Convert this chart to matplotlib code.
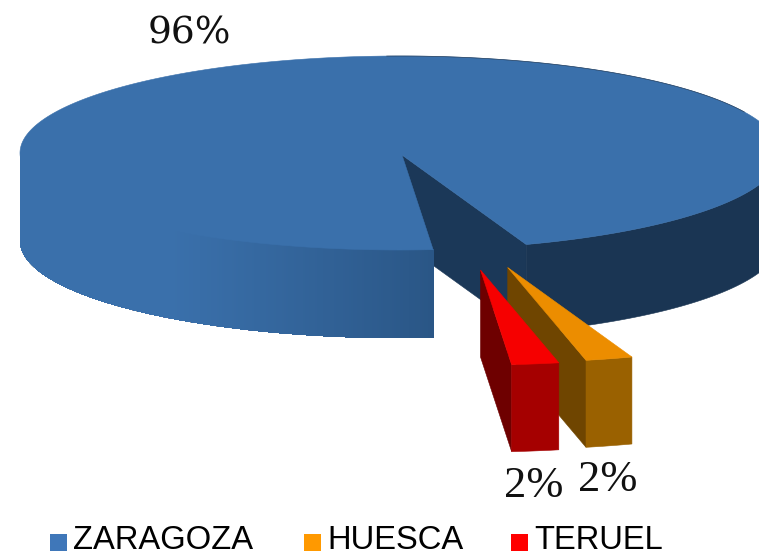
import numpy as np
import matplotlib
matplotlib.use("Agg")
import matplotlib.pyplot as plt
from matplotlib.patches import Polygon, Rectangle

# ---- data ----
categories = ["ZARAGOZA", "HUESCA", "TERUEL"]
shares = [96, 2, 2]
share_labels = ["96%", "2%", "2%"]
legend_colors = ["#3F77B9", "#FF9900", "#FF0000"]

# ---- styling and projection ----
W, H = 759, 556
CX, CY, RX, RY = 400, 153, 380, 97     # ellipse of the top face
APEX = np.array([402.0, 155.0])        # visual apex of the pie
DEPTH = 88
START = 85.0                           # screen angle where the first slice starts
offsets = {"HUESCA": (105.7, 112.5), "TERUEL": (78.5, 115.0)}
shades = {
    "HUESCA": dict(top="#EC8D00", front="#9A6100", side="#6F4500"),
    "TERUEL": dict(top="#F60000", front="#A50000", side="#6E0000"),
}
TOP = np.array([0x3A, 0x70, 0xAB]) / 255
MID = np.array([0x2A, 0x56, 0x86]) / 255
DARK = "#1A3553"
CUT = "#1B3858"

fig = plt.figure(figsize=(W / 100, H / 100), dpi=100)
ax = fig.add_axes([0, 0, 1, 1])
ax.set_xlim(0, W)
ax.set_ylim(H, 0)
ax.axis("off")


def rim(a):
    a = np.radians(a)
    return np.column_stack([CX + RX * np.cos(a), CY + RY * np.sin(a)])


def poly(pts, color, **kw):
    ax.add_patch(Polygon(np.asarray(pts), closed=True, facecolor=color,
                         edgecolor=color, linewidth=0.4, **kw))


def down(pts, d=DEPTH):
    return np.asarray(pts) + np.array([0, d])


# slice angle ranges from the shares
sweeps = np.array(shares) / sum(shares) * 360
edges = START + np.concatenate([[0], np.cumsum(sweeps)])
z_start, z_end = edges[0], edges[1]
notch = z_end - 360

# cut face seen through the gap
r_notch = rim([notch])[0]
poly([APEX, r_notch, r_notch + [0, DEPTH], APEX + [0, DEPTH]], CUT)

# right part of the side wall
arc = rim(np.linspace(-8, notch, 60))
poly(np.vstack([arc, down(arc)[::-1]]), DARK)

# front left part of the side wall, shaded by x; painted left to right,
# each band reaching to the far end so no seams appear between bands
steps = np.linspace(182, z_start, 300)
for i in range(len(steps) - 1):
    seg = rim(np.linspace(steps[i], z_start, 40))
    x = rim(steps[i:i + 2])[:, 0].mean()
    t = np.clip((x - 170) / (433 - 170), 0, 1) ** 1.1
    c = TOP + (MID - TOP) * t
    ax.add_patch(Polygon(np.vstack([seg, down(seg)[::-1]]), closed=True,
                         facecolor=c, edgecolor="none"))

# top face of the main slice
top_arc = rim(np.linspace(z_start, z_end, 400))
poly(np.vstack([[APEX], top_arc]), TOP)
edge = rim(np.linspace(268, 335, 120))
ax.plot(edge[:, 0], edge[:, 1], color="#16263A", lw=0.5, alpha=0.7)

# exploded slices
for k, name in enumerate(categories[1:], start=1):
    a0, a1 = edges[k] - 360, edges[k + 1] - 360
    off = np.array(offsets[name])
    col = shades[name]
    tip = APEX + off
    r = rim(np.linspace(a0, a1, 12)) + off
    poly([tip, r[-1], r[-1] + [0, DEPTH - 1], tip + [0, DEPTH - 1]], col["side"])
    poly(np.vstack([r, down(r, DEPTH - 1)[::-1]]), col["front"])
    poly(np.vstack([[tip], r]), col["top"])

# percentage labels
ax.text(189, 44, share_labels[0], family="DejaVu Serif", fontsize=27,
        ha="center", va="baseline", color="#111111")
ax.text(608, 491, share_labels[1], family="Liberation Serif", fontsize=32,
        ha="center", va="baseline", color="#111111")
ax.text(534, 497, share_labels[2], family="Liberation Serif", fontsize=32,
        ha="center", va="baseline", color="#111111")

# legend
sq_x = [49.5, 304, 511]
tx_x = [73, 327, 534]
for name, c, sx, tx in zip(categories, legend_colors, sq_x, tx_x):
    ax.add_patch(Rectangle((sx, 533.7), 17, 17, facecolor=c, edgecolor="none"))
    ax.text(tx, 549, name, family="Liberation Sans", fontsize=23.6,
            ha="left", va="baseline", color="#000000")

fig.savefig("out.png", dpi=100)
